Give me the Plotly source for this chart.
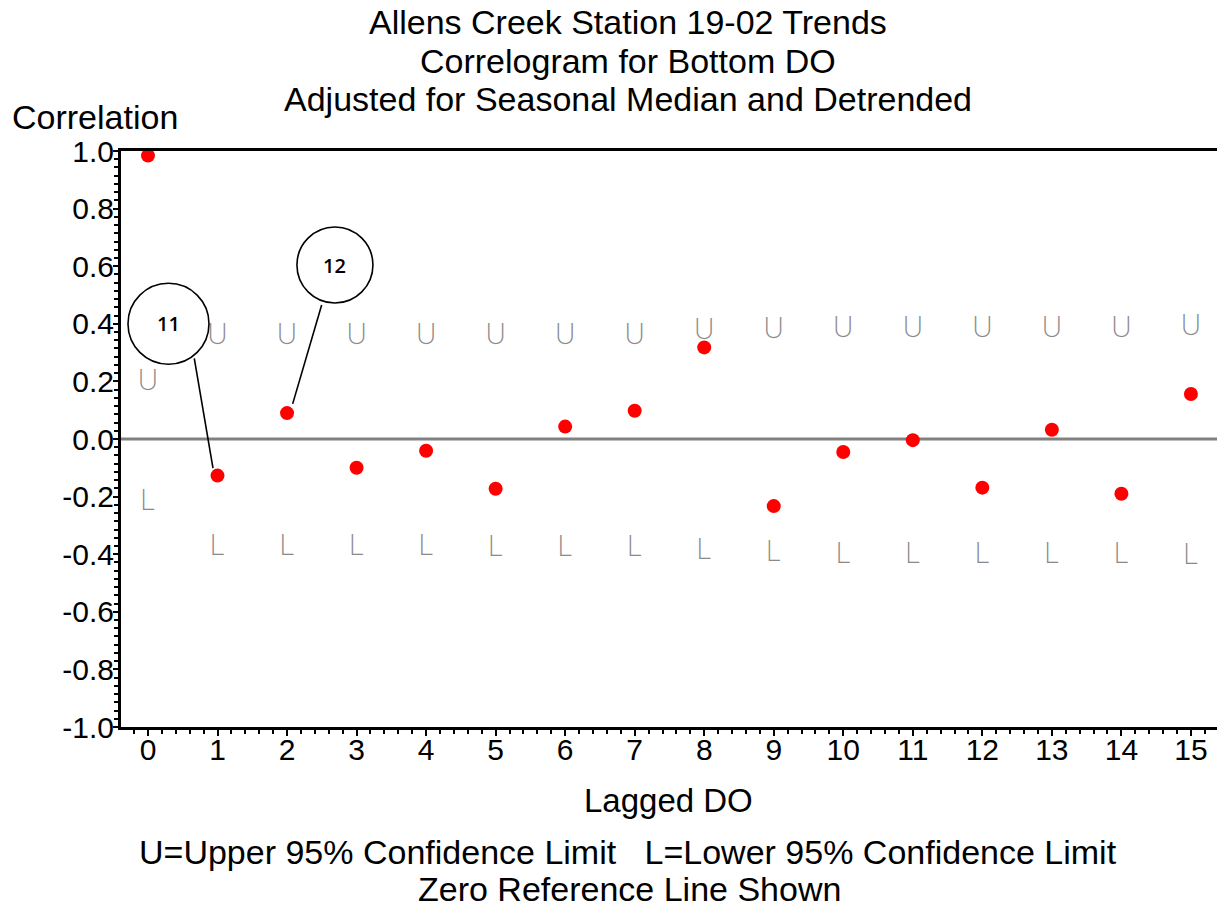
import plotly.graph_objects as go

# Autocorrelation of bottom DO residuals by lag
lags = list(range(16))
acf = [0.984, -0.127, 0.090, -0.100, -0.041, -0.173, 0.043, 0.098,
       0.318, -0.233, -0.045, -0.004, -0.169, 0.032, -0.190, 0.156]
upper95 = [0.195, 0.353, 0.353, 0.353, 0.353, 0.353, 0.354, 0.354,
           0.372, 0.376, 0.380, 0.380, 0.380, 0.380, 0.380, 0.384]
lower95 = [-0.222, -0.380, -0.380, -0.380, -0.380, -0.381, -0.381, -0.381,
           -0.391, -0.401, -0.405, -0.405, -0.405, -0.405, -0.405, -0.409]
y_ticks = [-1.0, -0.8, -0.6, -0.4, -0.2, 0.0, 0.2, 0.4, 0.6, 0.8, 1.0]

# callout bubbles: label, bubble centre (data), radius (px), leader line (data)
callouts = [
    ("11", 0.295, 0.40, 40.5, (0.666, 0.280), (0.935, -0.101)),
    ("12", 2.689, 0.604, 38.0, (2.498, 0.465), (2.081, 0.122)),
]

FONT = "Liberation Sans, Arial, sans-serif"
LIMIT_FONT = dict(family="Inter, Liberation Sans, sans-serif", size=28,
                  color="#8a8a8a", weight=200)
W, H = 1217, 909
L, R, T, B = 121, 0, 151, 182
PW, PH = W - L - R, H - T - B


def px_x(p):
    return (p - L) / PW


def px_y(p):
    return (H - B - p) / PH


fig = go.Figure()

fig.add_trace(go.Scatter(
    x=lags, y=upper95, mode="text", text=["U"] * len(lags),
    textposition="middle center", textfont=LIMIT_FONT,
    hoverinfo="skip", showlegend=False))
fig.add_trace(go.Scatter(
    x=lags, y=lower95, mode="text", text=["L"] * len(lags),
    textposition="middle center", textfont=LIMIT_FONT,
    hoverinfo="skip", showlegend=False))
fig.add_trace(go.Scatter(
    x=lags, y=acf, mode="markers",
    marker=dict(size=14, color="#ff0000", line=dict(width=0)),
    showlegend=False))

shapes = [
    # zero reference line
    dict(type="line", xref="paper", yref="y", x0=0, x1=1, y0=0, y1=0,
         line=dict(color="#808080", width=3), layer="below"),
]
annotations = []
for label, cx, cy, r, (lx0, ly0), (lx1, ly1) in callouts:
    shapes.append(dict(type="circle", xref="x", yref="y",
                       xsizemode="pixel", ysizemode="pixel",
                       xanchor=cx, yanchor=cy, x0=-r, x1=r, y0=-r, y1=r,
                       line=dict(color="black", width=1.6),
                       fillcolor="rgba(255,255,255,0)"))
    shapes.append(dict(type="line", xref="x", yref="y",
                       x0=lx0, y0=ly0, x1=lx1, y1=ly1,
                       line=dict(color="black", width=1.6)))
    annotations.append(dict(x=cx, y=cy, xref="x", yref="y", text=label,
                            showarrow=False, xanchor="center", yanchor="middle",
                            font=dict(family="Open Sans", size=20,
                                      color="black", weight=600)))

title_lines = [
    ("Allens Creek Station 19-02 Trends", 22),
    ("Correlogram for Bottom DO", 61),
    ("Adjusted for Seasonal Median and Detrended", 99),
]
for txt, yp in title_lines:
    annotations.append(dict(x=px_x(628), y=px_y(yp), xref="paper", yref="paper",
                            text=txt, showarrow=False, xanchor="center",
                            yanchor="middle",
                            font=dict(family=FONT, size=34, color="black")))

annotations.append(dict(x=px_x(10), y=px_y(117), xref="paper", yref="paper",
                        text="Correlation", showarrow=False, xanchor="left",
                        yanchor="middle",
                        font=dict(family=FONT, size=34, color="black")))
annotations.append(dict(x=px_x(668), y=px_y(800), xref="paper", yref="paper",
                        text="Lagged DO", showarrow=False, xanchor="center",
                        yanchor="middle",
                        font=dict(family=FONT, size=33, color="black")))
annotations.append(dict(x=px_x(628), y=px_y(852), xref="paper", yref="paper",
                        text="U=Upper 95% Confidence Limit   L=Lower 95% Confidence Limit",
                        showarrow=False, xanchor="center", yanchor="middle",
                        font=dict(family=FONT, size=34, color="black")))
annotations.append(dict(x=px_x(629), y=px_y(889), xref="paper", yref="paper",
                        text="Zero Reference Line Shown",
                        showarrow=False, xanchor="center", yanchor="middle",
                        font=dict(family=FONT, size=34, color="black")))

fig.update_layout(
    width=W, height=H,
    margin=dict(l=L, r=R, t=T, b=B, pad=0),
    paper_bgcolor="white", plot_bgcolor="white",
    shapes=shapes, annotations=annotations,
    font=dict(family=FONT, color="black"),
    showlegend=False,
)
fig.update_xaxes(
    range=[-0.388, 15.375], tickmode="array", tickvals=lags,
    ticktext=[str(v) for v in lags],
    showgrid=False, zeroline=False,
    showline=True, linecolor="black", linewidth=3, mirror=True,
    ticks="outside", ticklen=6, tickwidth=2, tickcolor="black",
    tickfont=dict(family=FONT, size=30, color="black"),
    ticklabelstandoff=-12,
    minor=dict(dtick=0.2, ticks="outside", ticklen=4, tickwidth=2,
               tickcolor="black", showgrid=False),
)
fig.update_yaxes(
    range=[-1.0, 1.0], tickmode="array", tickvals=y_ticks,
    ticktext=[f"{v:.1f}" for v in y_ticks],
    showgrid=False, zeroline=False,
    showline=True, linecolor="black", linewidth=3, mirror=False,
    ticks="outside", ticklen=5, tickwidth=2, tickcolor="black",
    tickfont=dict(family=FONT, size=30, color="black"),
    ticklabelstandoff=-7,
    minor=dict(dtick=0.2 / 7, ticks="outside", ticklen=4, tickwidth=2,
               tickcolor="black", showgrid=False),
)

fig.write_html("out.html")
